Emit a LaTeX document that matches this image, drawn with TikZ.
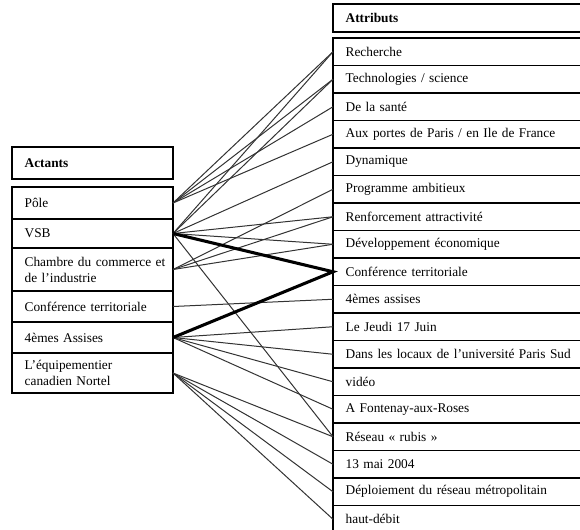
\documentclass[tikz,border=0pt]{standalone}
\usepackage{fontspec}
\setmainfont{Liberation Serif}
\usepackage{tikz}
\usetikzlibrary{positioning}
\tikzstyle{cell}=[draw, rectangle, line width=1pt, outer sep=0pt, inner xsep=9.5pt, inner ysep=0pt, align=left, anchor=north west, font=\fontsize{10}{12}\selectfont]
\tikzstyle{actant}=[cell, text width=101.75pt]
\tikzstyle{attribut}=[cell, text width=170pt, minimum height=20.625pt]
\tikzstyle{link}=[line width=.75pt, black!80]
\tikzstyle{strong}=[line width=2.3pt, black]

\begin{document}
\begin{tikzpicture}[x=.75pt, y=-.75pt]
	\useasboundingbox (0,0) rectangle (580,529);
	\clip (0,0) rectangle (580,529);
%
	\node[actant, minimum height=24pt] (actants) at (12,147) {\textbf{Actants}};
	\node[actant, minimum height=24pt, below=6pt of actants] (a1) {Pôle};
	\node[actant, minimum height=21.75pt, below=0pt of a1] (a2) {VSB};
	\node[actant, minimum height=32.25pt, below=0pt of a2] (a3) {\mbox{Chambre du commerce et}\\de l’industrie};
	\node[actant, minimum height=23.25pt, below=0pt of a3] (a4) {Conférence territoriale};
	\node[actant, minimum height=23.25pt, below=0pt of a4] (a5) {4èmes Assises};
	\node[actant, minimum height=30pt, below=0pt of a5] (a6) {L’équipementier\\canadien Nortel};
%
	\node[attribut, minimum height=21pt] (attributs) at (333,4) {\textbf{Attributs}};
	\foreach \t [count=\i] in {Recherche, Technologies / science, De la santé,
		Aux portes de Paris / en Ile de France, Dynamique, Programme ambitieux,
		Renforcement attractivité, Développement économique, Conférence territoriale,
		4èmes assises, Le Jeudi 17 Juin, Dans les locaux de l’université Paris Sud,
		vidéo, A Fontenay-aux-Roses, Réseau « rubis », 13 mai 2004,
		Déploiement du réseau métropolitain, haut-débit}
		\node[attribut] (r\i) at (333,{38+27.5*(\i-1)}) {\t};
%
	\foreach \a/\r in {1/1,1/2,1/3,1/4, 2/1,2/2,2/5,2/7,2/8,2/15, 3/6,3/7,3/8,
		4/10, 5/11,5/12,5/13,5/14, 6/15,6/16,6/17,6/18}
		\draw[link] (a\a.east) -- (r\r.west);
	\draw[strong] (a2.east) -- (r9.west) -- (a5.east);
\end{tikzpicture}
\end{document}
